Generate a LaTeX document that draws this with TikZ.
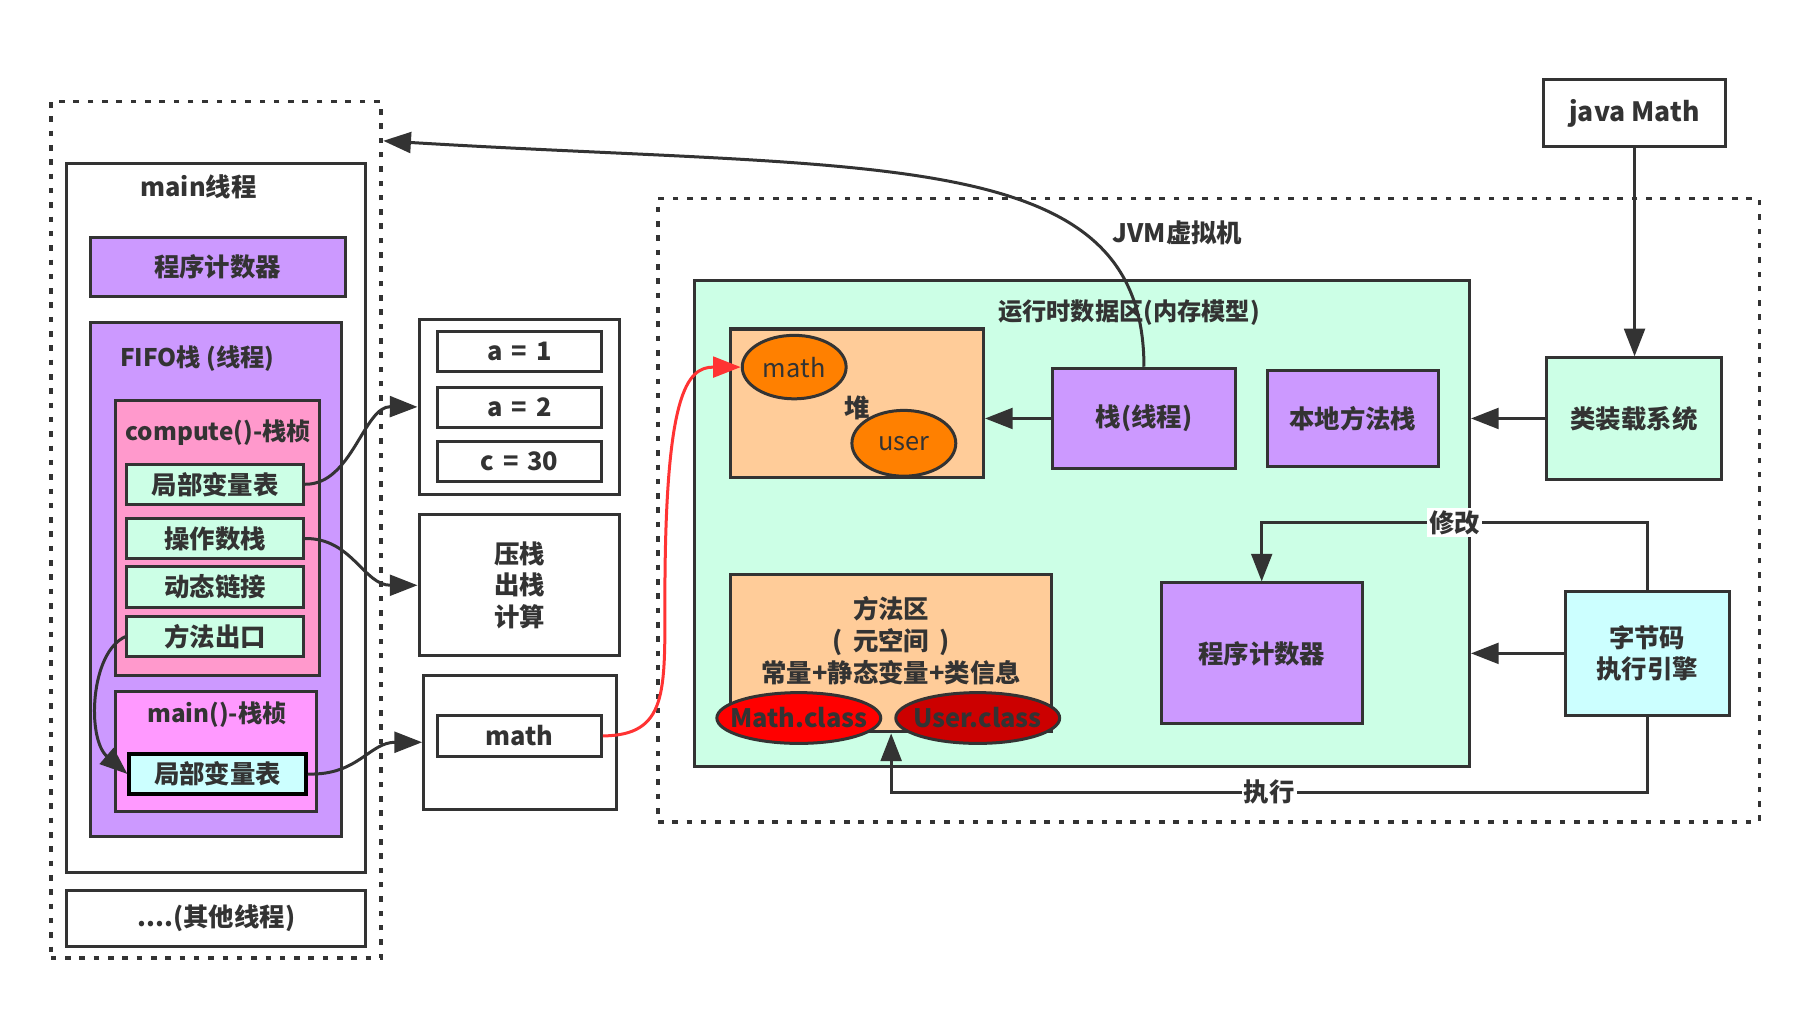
\documentclass[tikz,border=0pt]{standalone}
\usepackage{fontspec}
\setmainfont{Noto Sans CJK SC}
\usetikzlibrary{arrows.meta,shapes.geometric}

\definecolor{ink}{HTML}{333333}
\definecolor{lilac}{HTML}{CC99FF}
\definecolor{rose}{HTML}{FF99CC}
\definecolor{orchid}{HTML}{FF99FF}
\definecolor{mint}{HTML}{CCFFE6}
\definecolor{aqua}{HTML}{CCFFFF}
\definecolor{peach}{HTML}{FFCC99}
\definecolor{amber}{HTML}{FF8000}
\definecolor{crimson}{HTML}{CC0000}
\definecolor{redline}{HTML}{FF3333}

\tikzset{
  sz/.style 2 args={minimum width=#1*0.5pt, minimum height=#2*0.5pt},
  plainbox/.style={draw=ink, line width=1.3pt, inner sep=0pt, fill=white},
  dotbox/.style={draw=ink, line width=1.5pt, dash pattern=on 2.4pt off 3.8pt, inner sep=0pt},
  lilacbox/.style={plainbox, fill=lilac},
  rosebox/.style={plainbox, fill=rose},
  orchidbox/.style={plainbox, fill=orchid},
  mintbox/.style={plainbox, fill=mint},
  peachbox/.style={plainbox, fill=peach},
  small/.style={font=\fontsize{10.5}{13}\selectfont\bfseries},
  obj/.style={ellipse, draw=ink, line width=1.3pt, inner sep=0pt, fill=amber, font=\fontsize{11}{13.75}\selectfont\mdseries},
  cls/.style={ellipse, draw=ink, line width=1.3pt, inner xsep=-12pt, inner ysep=-4pt},
  tag/.style={fill=white, inner sep=1pt},
  arr/.style={draw=ink, line width=1.3pt, -{Triangle[length=12pt,width=9pt]}},
}

\begin{document}
\begin{tikzpicture}
  [x=0.5pt, y=-0.5pt,
   every node/.style={font=\fontsize{11}{13.75}\selectfont\bfseries, text=ink, align=center}]
  \useasboundingbox (0,0) rectangle (1568,875);

  % threads
  \node[dotbox, sz={286}{742}] (threads) at (187,459) {};
  \node[plainbox, sz={259}{614}] (mainthread) at (187.5,449) {};
  \node (mainlbl) at (172,162) {main线程};
  \node[lilacbox, sz={221}{51}] (pcl) at (188.5,231.5) {程序计数器};
  \node[lilacbox, sz={218}{446}] (fifo) at (187,502) {};
  \node[small] (fifolbl) at (171,311) {FIFO栈 (线程)};
  \node[rosebox, sz={177}{238}] (compute) at (188.5,466) {};
  \node[small] (computelbl) at (189,375) {compute()-栈桢};
  \foreach \n/\t/\y in {lv1/局部变量表/419.5, ops/操作数栈/466.5, dyn/动态链接/508.5, exit/方法出口/551.5}
    \node[mintbox, sz={153}{35}] (\n) at (186.5,\y) {\t};
  \node[orchidbox, sz={174}{104}] (mainframe) at (187,651) {};
  \node[small] (mainframelbl) at (188,619) {main()-栈桢};
  \node[plainbox, fill=aqua, draw=black, line width=1.6pt, sz={153}{35}] (lv2) at (188.5,670.5) {局部变量表};
  \node[plainbox, sz={259}{49}] (others) at (187.5,795.5) {....(其他线程)};

  % values
  \node[plainbox, sz={174}{151}] (abox) at (450,352.5) {};
  \foreach \n/\t/\y in {a1/{a\hspace{.35em}=\hspace{.35em}1}/304.5, a2/{a\hspace{.35em}=\hspace{.35em}2}/353, c30/{c\hspace{.35em}=\hspace{.35em}30}/400}
    \node[plainbox, sz={142}{35}] (\n) at (450,\y) {\t};
  \node[plainbox, sz={174}{122}] (pushbox) at (450,507) {压栈\\出栈\\计算};
  \node[plainbox, sz={167}{116}] (mathref) at (450.5,643) {};
  \node[plainbox, sz={142}{35}] (mathvar) at (450,637.5) {math};

  % jvm
  \node[dotbox, sz={954}{540}] (jvm) at (1047,442) {};
  \node (jvmlbl) at (1020,202) {JVM虚拟机};
  \node[mintbox, sz={671}{421}] (rda) at (937.5,453.5) {};
  \node[small] (rdalbl) at (978,271) {运行时数据区(内存模型)};
  \node[peachbox, sz={219}{129}] (heap) at (742.5,349.5) {};
  \node (heaplbl) at (743,353) {堆};
  \node[obj, sz={90}{55}] (mathobj) at (688,318) {math};
  \node[obj, sz={90}{57}] (userobj) at (783,384) {user};
  \node[lilacbox, sz={158}{87}] (stack) at (991,362.5) {栈(线程)};
  \node[lilacbox, sz={148}{83}] (native) at (1172,362.5) {本地方法栈};
  \node[peachbox, sz={278}{136}] (method) at (772,566) {};
  \node (methodlbl) at (772,555) {方法区\\(\hspace{.4em}元空间\hspace{.4em})\\常量+静态变量+类信息};
  \node[cls, fill=red, sz={142}{44}] (mathcls) at (692,622) {Math.class};
  \node[cls, fill=crimson, sz={142}{44}] (usercls) at (847,622) {User.class};
  \node[lilacbox, sz={174}{122}] (pc) at (1093,566) {程序计数器};
  \node[mintbox, sz={151}{105}] (loader) at (1415.5,362.5) {类装载系统};
  \node[plainbox, sz={158}{58}] (javamath) at (1416,98) {\fontsize{11.5}{14}\selectfont java Math};
  \node[plainbox, fill=aqua, sz={142}{108}] (engine) at (1427,566) {字节码\\执行引擎};
  \coordinate (threadtip) at (332,122);

  \draw[arr] (javamath.south) -- (javamath.south |- loader.north);
  \foreach \from/\to in {loader/rda, engine/rda, stack/heap}
    \draw[arr] (\from.west) -- (\from.west -| \to.east);
  \draw[arr] (engine.north) -- ++(0,-58) -| node[pos=.25, tag] {修改} (pc.north);
  \draw[arr] (engine.south) -- ++(0,65) -| node[pos=.25, tag] {执行} (method.south);
  \draw[arr] (stack.north) .. controls (991,125) and (760,148) .. (threadtip);
  \draw[arr] (lv1.east) .. controls (305,420) and (315,352) .. (abox.west);
  \draw[arr] (ops.east) .. controls (305,466) and (315,507) .. (pushbox.west);
  \draw[arr] (lv2.east) .. controls (310,672) and (320,643) .. (mathref.west);
  \draw[arr] (exit.west) .. controls (78,565) and (75,640) .. (lv2.west);
  \draw[arr, draw=redline] (mathvar.east) .. controls (578,637) and (576,600) .. (576,520)
    .. controls (576,340) and (595,318) .. (mathobj.west);
\end{tikzpicture}
\end{document}
